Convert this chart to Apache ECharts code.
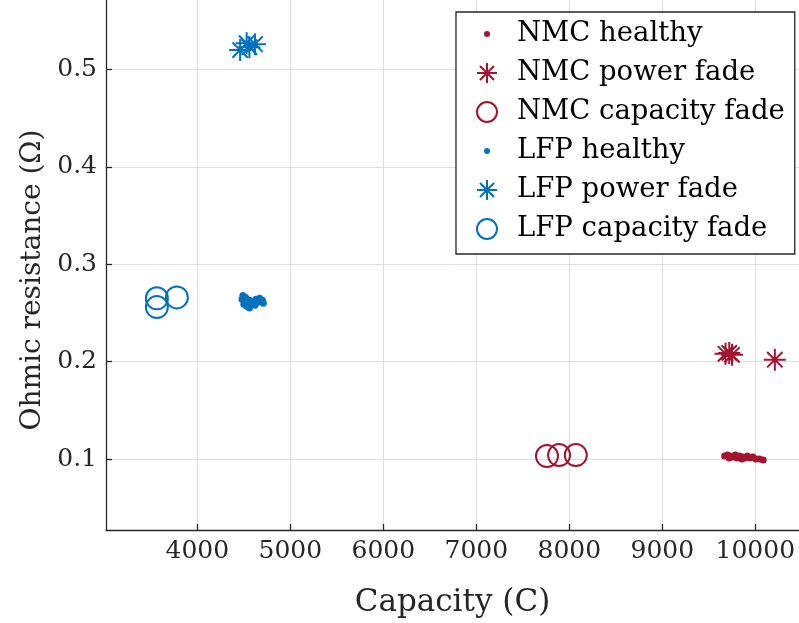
<!DOCTYPE html>
<html>
<head>
<meta charset="utf-8">
<script src="https://cdn.jsdelivr.net/npm/echarts@6/dist/echarts.min.js"></script>
<style>
  html, body { margin: 0; padding: 0; background: #fff; }
  #chart { width: 799px; height: 623px; }
</style>
</head>
<body>
<div id="chart"></div>
<script>
// Cell measurements: capacity (C) vs ohmic resistance (Ω)
const nmcHealthy = [
  [9670, 0.103], [9700, 0.104], [9720, 0.101], [9735, 0.103], [9760, 0.102],
  [9785, 0.104], [9805, 0.101], [9830, 0.103], [9855, 0.100], [9865, 0.102],
  [9890, 0.101], [9915, 0.103], [9945, 0.101], [9975, 0.102], [10005, 0.100],
  [10045, 0.100], [10085, 0.099]
];
const nmcPowerFade = [[9680, 0.208], [9720, 0.209], [9750, 0.207], [10210, 0.202]];
const nmcCapacityFade = [[7760, 0.103], [7890, 0.104], [8070, 0.104]];

const lfpHealthy = [
  [4490, 0.268], [4480, 0.264], [4520, 0.266], [4500, 0.259], [4530, 0.257],
  [4560, 0.255], [4580, 0.259], [4600, 0.262], [4630, 0.264], [4650, 0.261],
  [4670, 0.265], [4700, 0.263], [4710, 0.260], [4560, 0.263], [4620, 0.258]
];
const lfpPowerFade = [[4460, 0.520], [4530, 0.527], [4560, 0.523], [4620, 0.526]];
const lfpCapacityFade = [[3565, 0.265], [3565, 0.256], [3780, 0.266]];

const xTicks = [4000, 5000, 6000, 7000, 8000, 9000, 10000];
const yTicks = [0.1, 0.2, 0.3, 0.4, 0.5];

const RED = '#A2142F';
const BLUE = '#0072BD';
const INK = '#262626';
const FONT = 'DejaVu Serif';

// Marker shapes: eight-armed asterisk, and a small dot padded to a unit box
const ASTERISK = 'path://M0,-1L0,1M-1,0L1,0M-0.7,-0.7L0.7,0.7M-0.7,0.7L0.7,-0.7';
const DOT = 'path://M-1,-1M1,1M0,-0.3A0.3,0.3,0,1,1,0,0.3A0.3,0.3,0,1,1,0,-0.3Z';

function dots(name, data, color) {
  return { name, type: 'scatter', data, symbol: 'circle', symbolSize: 7,
    itemStyle: { color, opacity: 1 }, emphasis: { disabled: true } };
}
function stars(name, data, color) {
  return { name, type: 'scatter', data, symbol: ASTERISK, symbolSize: 22,
    itemStyle: { color: 'rgba(0,0,0,0)', borderColor: color, borderWidth: 2, opacity: 1 },
    emphasis: { disabled: true } };
}
function rings(name, data, color) {
  return { name, type: 'scatter', data, symbol: 'circle', symbolSize: 22,
    itemStyle: { color: 'rgba(0,0,0,0)', borderColor: color, borderWidth: 2, opacity: 1 },
    emphasis: { disabled: true } };
}

const chart = echarts.init(document.getElementById('chart'), null, { renderer: 'canvas' });
chart.setOption({
  animation: false,
  backgroundColor: '#fff',
  textStyle: { fontFamily: FONT },
  grid: { left: 106, right: 0, top: 0, bottom: 93, containLabel: false },
  xAxis: {
    type: 'value', min: 3018, max: 10470,
    name: 'Capacity (C)', nameLocation: 'middle', nameGap: 57,
    nameTextStyle: { fontFamily: FONT, fontSize: 31, color: INK },
    axisLine: { show: true, lineStyle: { color: INK, width: 1.3 } },
    axisTick: { show: true, inside: true, length: 6, customValues: xTicks,
      lineStyle: { color: INK, width: 1.3 } },
    axisLabel: { customValues: xTicks, margin: 9, fontFamily: FONT, fontSize: 25,
      color: INK, formatter: v => String(v) },
    splitLine: { show: true, lineStyle: { color: '#dfdfdf', width: 1 } }
  },
  yAxis: {
    type: 'value', min: 0.0271, max: 0.5714,
    name: 'Ohmic resistance (Ω)', nameLocation: 'middle', nameGap: 50,
    nameTextStyle: { fontFamily: FONT, fontSize: 28, color: INK, padding: [0, 30, 0, 0] },
    axisLine: { show: true, lineStyle: { color: INK, width: 1.3 } },
    axisTick: { show: true, inside: true, length: 6, customValues: yTicks,
      lineStyle: { color: INK, width: 1.3 } },
    axisLabel: { customValues: yTicks, margin: 9, fontFamily: FONT, fontSize: 25,
      color: INK, formatter: v => String(v) },
    splitLine: { show: true, lineStyle: { color: '#dfdfdf', width: 1 } }
  },
  legend: {
    orient: 'vertical', left: 456, top: 12,
    padding: [8, 10, 11, 20],
    backgroundColor: '#fff', borderColor: INK, borderWidth: 1.3,
    itemWidth: 22, itemHeight: 20, itemGap: 11,
    textStyle: { fontFamily: FONT, fontSize: 27.5, color: '#000', padding: [0, 0, 0, 14] },
    selectedMode: false,
    data: [
      { name: 'NMC healthy', icon: DOT },
      { name: 'NMC power fade', icon: ASTERISK },
      { name: 'NMC capacity fade', icon: 'circle' },
      { name: 'LFP healthy', icon: DOT },
      { name: 'LFP power fade', icon: ASTERISK },
      { name: 'LFP capacity fade', icon: 'circle' }
    ]
  },
  series: [
    dots('NMC healthy', nmcHealthy, RED),
    stars('NMC power fade', nmcPowerFade, RED),
    rings('NMC capacity fade', nmcCapacityFade, RED),
    dots('LFP healthy', lfpHealthy, BLUE),
    stars('LFP power fade', lfpPowerFade, BLUE),
    rings('LFP capacity fade', lfpCapacityFade, BLUE)
  ]
});
</script>
</body>
</html>
